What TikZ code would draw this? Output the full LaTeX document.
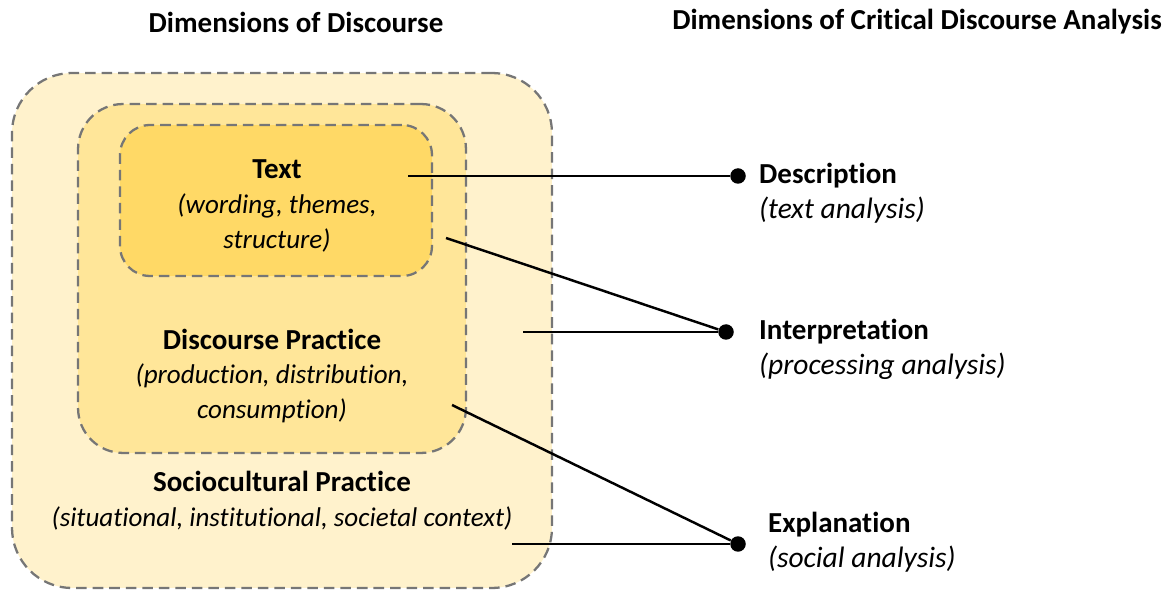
\documentclass[tikz,border=0pt]{standalone}
\usepackage{fontspec}
\setmainfont{Carlito}[Ligatures=NoCommon]
\usetikzlibrary{positioning,calc}

\definecolor{socfill}{HTML}{FFF2CC}
\definecolor{dpfill}{HTML}{FFE699}
\definecolor{txtfill}{HTML}{FFD966}
\definecolor{dashgray}{HTML}{767676}

\newcommand{\inl}[1]{{\fontsize{15.4}{19.5}\selectfont\itshape #1}}

\begin{document}
\begin{tikzpicture}[
    x=0.02cm, y=-0.02cm,
    layer/.style={rectangle, draw=dashgray, line width=1.3pt, dash pattern=on 6pt off 3.4pt},
    heading/.style={font=\fontsize{16.5}{20}\selectfont\bfseries},
    title/.style={font=\fontsize{16.5}{20}\selectfont\bfseries, inner sep=1pt},
    sub/.style={font=\fontsize{16.8}{20}\selectfont\itshape, inner sep=1pt},
    inside/.style={align=center, font=\fontsize{16.5}{19.8}\selectfont},
    dot/.style={circle, fill=black, inner sep=0pt, minimum size=0.31cm},
    link/.style={line width=1.4pt}
]
\useasboundingbox (0,0) rectangle (1175,590);

% Headings
\node[heading] (h-left) at (296,22) {Dimensions of Discourse};
\node[heading] (h-right) at (917,22) {Dimensions of Critical Discourse Analysis};

% Nested layers
\node[layer, fill=socfill, rounded corners=1.2cm, minimum width=10.8cm, minimum height=10.3cm] (socio) at (282,330.5) {};
\node[layer, fill=dpfill, rounded corners=0.9cm, minimum width=7.76cm, minimum height=6.98cm] (dp) at (272,278.5) {};
\node[layer, fill=txtfill, rounded corners=0.6cm, minimum width=6.24cm, minimum height=3.02cm] (txt) at (276,200.5) {};

% Layer labels
\node[inside] (txt-lbl) at (277,206) {\textbf{Text}\\\inl{(wording, themes,}\\\inl{structure)}};
\node[inside] (dp-lbl) at (272,376) {\textbf{Discourse Practice}\\\inl{(production, distribution,}\\\inl{consumption)}};
\node[inside] (socio-lbl) at (282,501) {\textbf{Sociocultural Practice}\\\inl{(situational, institutional, societal context)}};

% Analysis end points
\node[dot] (desc-dot) at (738,176) {};
\node[dot] (interp-dot) at (726,332) {};
\node[dot] (expl-dot) at (738,544) {};

% Analysis labels
\node[title, right=0.22cm of desc-dot] (desc) {Description};
\node[sub, below right=0.08cm and 0cm of desc.south west] (desc-sub) {(text analysis)};
\node[title, right=0.46cm of interp-dot] (interp) {Interpretation};
\node[sub, below right=0.08cm and 0cm of interp.south west] (interp-sub) {(processing analysis)};
\node[title, anchor=west] (expl) at (766,525) {Explanation};
\node[sub, below right=0.08cm and 0cm of expl.south west] (expl-sub) {(social analysis)};

% Start points of the connectors
\coordinate (txt-out) at (408,176);
\coordinate (txt-corner) at (446,238);
\coordinate (socio-mid) at (523,332);
\coordinate (dp-corner) at (452,405);
\coordinate (socio-low) at (512,544);

% Connectors
\draw[link] (txt-out) -- (desc-dot);
\draw[link] (txt-corner) -- (interp-dot);
\draw[link] (socio-mid) -- (interp-dot);
\draw[link] (dp-corner) -- (expl-dot);
\draw[link] (socio-low) -- (expl-dot);

\end{tikzpicture}
\end{document}
